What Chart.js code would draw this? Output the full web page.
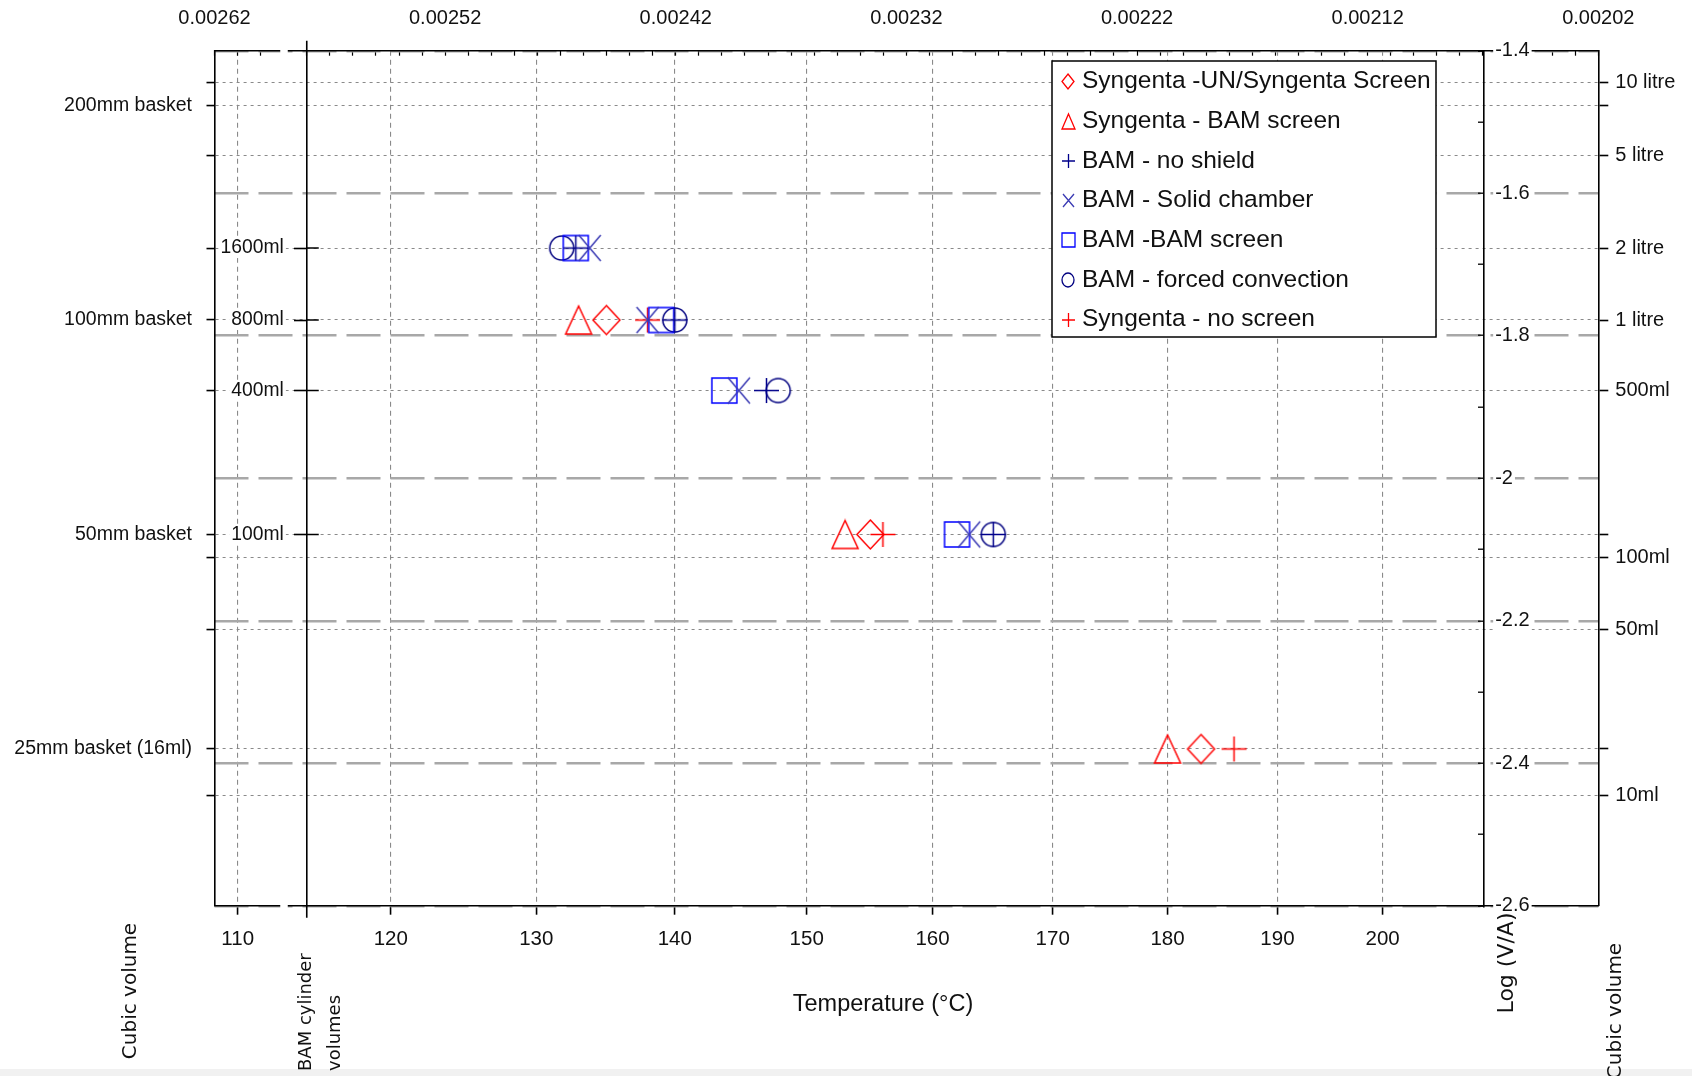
<!DOCTYPE html>
<html>
<head>
<meta charset="utf-8">
<title>Log (V/A) against temperature</title>
<script src="https://cdn.jsdelivr.net/npm/chart.js@4.4.1/dist/chart.umd.min.js"></script>
<style>
  html, body { margin: 0; padding: 0; background: #fff; }
  #chart { display: block; }
</style>
</head>
<body>
<canvas id="chart" width="1692" height="1076"></canvas>
<script>

// series, in legend order
var seriesNames = [
	'Syngenta -UN/Syngenta Screen',
	'Syngenta - BAM screen',
	'BAM - no shield',
	'BAM - Solid chamber',
	'BAM -BAM screen',
	'BAM - forced convection',
	'Syngenta - no screen'
];

// temperature (°C) and Log(V/A) of each point
var synScreenTemp = [135, 155, 183];
var synScreenLogVA = [-1.778, -2.079, -2.380];
var synBamTemp = [133, 153, 180];
var synBamLogVA = [-1.778, -2.079, -2.380];
var bamNoShieldTemp = [132.8, 140, 146.9, 165];
var bamNoShieldLogVA = [-1.677, -1.778, -1.877, -2.079];
var bamSolidTemp = [133.8, 138, 144.8, 163];
var bamSolidLogVA = [-1.677, -1.778, -1.877, -2.079];
var bamScreenTemp = [132.8, 139, 143.7, 162];
var bamScreenLogVA = [-1.677, -1.778, -1.877, -2.079];
var bamForcedTemp = [131.8, 140, 147.8, 165];
var bamForcedLogVA = [-1.677, -1.778, -1.877, -2.079];
var synNoScreenTemp = [138, 156, 186];
var synNoScreenLogVA = [-1.778, -2.079, -2.380];

// axis ticks
var tempTicks = [110, 120, 130, 140, 150, 160, 170, 180, 190, 200];
var invTempLabels = [0.00262, 0.00252, 0.00242, 0.00232, 0.00222, 0.00212, 0.00202];
var cubicLogVA = [-1.445, -1.477, -1.547, -1.677, -1.778, -1.877, -2.079, -2.111, -2.212, -2.380, -2.445];
var basketLabels = ['', '200mm basket', '', '', '100mm basket', '', '50mm basket', '', '', '25mm basket (16ml)', ''];
var litreLabels = ['10 litre', '', '5 litre', '2 litre', '1 litre', '500ml', '', '100ml', '50ml', '', '10ml'];
var bamLogVA = [-1.677, -1.778, -1.877, -2.079];
var bamLabels = ['1600ml', '800ml', '400ml', '100ml'];

var seriesTemps = [synScreenTemp, synBamTemp, bamNoShieldTemp, bamSolidTemp, bamScreenTemp, bamForcedTemp, synNoScreenTemp];
var seriesLogVA = [synScreenLogVA, synBamLogVA, bamNoShieldLogVA, bamSolidLogVA, bamScreenLogVA, bamForcedLogVA, synNoScreenLogVA];

var markerShapes = ['diamond', 'triangle', 'plus', 'cross', 'square', 'circle', 'plus'];
var markerColors = ['#ff0000', '#ff0000', '#00008b', '#3c3cb4', '#0000ff', '#000080', '#ff0000'];
var plotSizes = { diamond: [27, 29], triangle: [26, 28], plus: [25, 25], cross: [22, 26], square: [25, 25], circle: [24, 24] };
var legendSizes = { diamond: [12, 15], triangle: [13, 15], plus: [13, 14], cross: [11, 13], square: [13, 14], circle: [12, 14] };

var sansFont = '"Liberation Sans", Arial, sans-serif';
var wideFont = '"DejaVu Sans", Verdana, sans-serif';

// position of the two inner axes, on the 1/T scale
var bamAxisAt = 0.00258;
var logAxisAt = 0.0020697;

function makeMarker(shape, color, w, h, lw){
	var c = document.createElement('canvas');
	c.width = Math.ceil(w + 4);
	c.height = Math.ceil(h + 4);
	var g = c.getContext('2d');
	var cx = c.width / 2, cy = c.height / 2, hw = w / 2, hh = h / 2;
	g.strokeStyle = color;
	g.lineWidth = lw;
	g.beginPath();
	if (shape === 'diamond'){
		g.moveTo(cx, cy - hh); g.lineTo(cx + hw, cy); g.lineTo(cx, cy + hh); g.lineTo(cx - hw, cy); g.closePath();
	} else if (shape === 'triangle'){
		g.moveTo(cx, cy - hh); g.lineTo(cx + hw, cy + hh); g.lineTo(cx - hw, cy + hh); g.closePath();
	} else if (shape === 'plus'){
		g.moveTo(cx - hw, cy); g.lineTo(cx + hw, cy); g.moveTo(cx, cy - hh); g.lineTo(cx, cy + hh);
	} else if (shape === 'cross'){
		g.moveTo(cx - hw, cy - hh); g.lineTo(cx + hw, cy + hh); g.moveTo(cx + hw, cy - hh); g.lineTo(cx - hw, cy + hh);
	} else if (shape === 'square'){
		g.rect(cx - hw, cy - hh, w, h);
	} else {
		g.ellipse(cx, cy, hw, hh, 0, 0, Math.PI * 2);
	}
	g.stroke();
	return c;
}

var plotMarkers = markerShapes.map(function(s, i){ return makeMarker(s, markerColors[i], plotSizes[s][0], plotSizes[s][1], 1.5); });
var legendMarkers = markerShapes.map(function(s, i){ return makeMarker(s, markerColors[i], legendSizes[s][0], legendSizes[s][1], 1.3); });

function toPoints(temps, logs){
	return temps.map(function(t, i){ return { x: 1 / (t + 273.15), y: logs[i] }; });
}

function isMajorLog(v){
	return Math.abs(Math.round(v * 10)) % 2 === 0;
}

function logLabel(v){
	return isMajorLog(v) ? String(Math.round(v * 10) / 10) : '';
}

function vText(g, txt, x, y, font, align){
	g.save();
	g.translate(x, y);
	g.rotate(-Math.PI / 2);
	g.font = font;
	g.textAlign = align;
	g.textBaseline = 'middle';
	g.fillText(txt, 0, 0);
	g.restore();
}

// label with a white box behind it, so the grid lines break around it
function boxedText(g, txt, x, y, align){
	var w = g.measureText(txt).width;
	var left = align === 'right' ? x - w : x;
	g.fillStyle = '#fff';
	g.fillRect(left - 2, y - 10, w + 4, 20);
	g.fillStyle = '#111';
	g.textAlign = align;
	g.fillText(txt, x, y);
}

var extras = {
	id: 'extras',
	beforeDraw: function(c){
		var g = c.ctx;
		g.save();
		g.fillStyle = '#fff';
		g.fillRect(0, 0, c.width, c.height);
		g.fillStyle = '#f1f1f1';
		g.fillRect(0, 1069, c.width, 7);
		g.restore();
	},
	afterDraw: function(c){
		var g = c.ctx, a = c.chartArea;
		var bx = c.scales.x.getPixelForValue(bamAxisAt);
		var lx = c.scales.x.getPixelForValue(logAxisAt);
		g.save();

		// breaks in the top and bottom axis lines
		g.fillStyle = '#fff';
		g.fillRect(bx - 26.5, a.top - 3, 7.5, 9);
		g.fillRect(bx - 26.5, a.bottom - 3, 7.5, 6);

		// BAM axis runs past the frame, ticks cross it
		g.strokeStyle = '#000';
		g.lineWidth = 1.6;
		g.beginPath();
		g.moveTo(bx, a.top - 10); g.lineTo(bx, a.top);
		g.moveTo(bx, a.bottom); g.lineTo(bx, a.bottom + 12);
		bamLogVA.forEach(function(v){
			var y = c.scales.yBam.getPixelForValue(v);
			g.moveTo(bx, y); g.lineTo(bx + 12, y);
		});
		g.stroke();

		// labels of the two inner axes
		g.textBaseline = 'middle';
		g.font = '19.3px ' + sansFont;
		bamLogVA.forEach(function(v, i){
			boxedText(g, bamLabels[i], bx - 23, c.scales.yBam.getPixelForValue(v), 'right');
		});
		g.font = '20px ' + sansFont;
		c.scales.y.ticks.forEach(function(t){
			var txt = logLabel(t.value);
			if (txt) boxedText(g, txt, lx + 11.5, c.scales.y.getPixelForValue(t.value), 'left');
		});

		// axis titles
		g.fillStyle = '#111';
		g.font = '23.5px ' + sansFont;
		g.textAlign = 'center';
		g.fillText('Temperature (°C)', 883, 1005);
		vText(g, 'Cubic volume', 131, 991, '20px ' + wideFont, 'center');
		vText(g, 'BAM cylinder', 306, 1071, '18px ' + wideFont, 'left');
		vText(g, 'volumes', 335, 1071, '18px ' + wideFont, 'left');
		vText(g, 'Log (V/A)', 1507, 963, '22px ' + wideFont, 'center');
		vText(g, 'Cubic volume', 1616, 1011, '20px ' + wideFont, 'center');

		// legend box
		g.fillStyle = '#fff';
		g.fillRect(1052, 61, 384, 276);
		g.strokeStyle = '#000';
		g.lineWidth = 1.5;
		g.strokeRect(1052, 61, 384, 276);
		g.font = '24.5px ' + sansFont;
		g.textAlign = 'left';
		g.textBaseline = 'middle';
		c.data.datasets.forEach(function(ds, i){
			var y = 81.5 + i * 39.7;
			var m = legendMarkers[i];
			g.drawImage(m, Math.round(1068 - m.width / 2), Math.round(y - m.height / 2));
			g.fillStyle = '#111';
			g.fillText(ds.label, 1082, y);
		});
		g.restore();
	}
};

Chart.defaults.color = '#111';

var chart = new Chart(document.getElementById('chart'), {
	type: 'scatter',
	data: {
		datasets: seriesNames.map(function(name, i){
			return {
				label: name,
				data: toPoints(seriesTemps[i], seriesLogVA[i]),
				pointStyle: plotMarkers[i],
				pointRadius: 12,
				pointHoverRadius: 12,
				xAxisID: 'x',
				yAxisID: 'y'
			};
		})
	},
	options: {
		responsive: false,
		animation: false,
		events: [],
		layout: { padding: 0 },
		plugins: { legend: { display: false }, tooltip: { enabled: false } },
		scales: {
			x: {
				type: 'linear', position: 'bottom', reverse: true, min: 0.00202, max: 0.00262,
				afterBuildTicks: function(s){ s.ticks = tempTicks.map(function(t){ return { value: 1 / (t + 273.15) }; }); },
				afterFit: function(s){ s.height = 170.3; },
				ticks: {
					autoSkip: false, maxRotation: 0, padding: 12, color: '#111',
					font: { family: sansFont, size: 20.5 },
					callback: function(v, i){ return String(tempTicks[i]); }
				},
				grid: { color: '#8a8a8a', lineWidth: 1.1, tickLength: 9, tickColor: '#000', tickWidth: 1.6 },
				border: { color: '#000', width: 1.6, dash: [5, 4] }
			},
			xTop: {
				type: 'linear', axis: 'x', position: 'top', reverse: true, min: 0.00202, max: 0.00262,
				afterBuildTicks: function(s){
					var t = [];
					for (var k = 0; k <= 60; k++){ t.push({ value: 0.00202 + k * 0.00001 }); }
					s.ticks = t;
				},
				afterFit: function(s){ s.height = 50.7; },
				ticks: {
					autoSkip: false, maxRotation: 0, padding: 25, color: '#111',
					font: { family: sansFont, size: 20 },
					callback: function(v){
						for (var k = 0; k < invTempLabels.length; k++){
							if (Math.abs(invTempLabels[k] - v) < 2e-9) return invTempLabels[k].toFixed(5);
						}
						return '';
					}
				},
				grid: { drawOnChartArea: false, tickLength: -5, tickColor: '#000', tickWidth: 1.2 },
				border: { color: '#000', width: 1.6 }
			},
			yCubeL: {
				type: 'linear', axis: 'y', position: 'left', min: -2.6, max: -1.4,
				afterBuildTicks: function(s){ s.ticks = cubicLogVA.map(function(v){ return { value: v }; }); },
				afterFit: function(s){ s.width = 214.5; },
				ticks: {
					autoSkip: false, padding: 14.5, color: '#111',
					font: { family: sansFont, size: 19.5 },
					callback: function(v, i){ return basketLabels[i]; }
				},
				grid: { color: '#8a8a8a', lineWidth: 1.1, tickLength: 8, tickColor: '#000', tickWidth: 1.6 },
				border: { color: '#000', width: 1.6, dash: [3, 4] }
			},
			yCubeR: {
				type: 'linear', axis: 'y', position: 'right', min: -2.6, max: -1.4,
				afterBuildTicks: function(s){ s.ticks = cubicLogVA.map(function(v){ return { value: v }; }); },
				afterFit: function(s){ s.width = 93.7; },
				ticks: {
					autoSkip: false, padding: 7, color: '#111',
					font: { family: sansFont, size: 20 },
					callback: function(v, i){ return litreLabels[i]; }
				},
				grid: { drawOnChartArea: false, tickLength: 10, tickColor: '#000', tickWidth: 1.6 },
				border: { color: '#000', width: 1.6 }
			},
			yBam: {
				type: 'linear', axis: 'y', position: { x: bamAxisAt }, min: -2.6, max: -1.4,
				afterBuildTicks: function(s){ s.ticks = bamLogVA.map(function(v){ return { value: v }; }); },
				ticks: { display: false },
				grid: { drawOnChartArea: false, tickLength: 12, tickColor: '#000', tickWidth: 1.6 },
				border: { color: '#000', width: 1.6 }
			},
			y: {
				type: 'linear', position: { x: logAxisAt }, min: -2.6, max: -1.4,
				ticks: { stepSize: 0.1, autoSkip: false, display: false },
				grid: {
					color: function(ctx){ return ctx.tick && isMajorLog(ctx.tick.value) ? '#a8a8a8' : 'rgba(0,0,0,0)'; },
					lineWidth: 2.4, tickLength: 5, tickColor: '#000', tickWidth: 1.3
				},
				border: { color: '#000', width: 1.6, dash: [34, 10] }
			}
		}
	},
	plugins: [extras]
});
</script>
</body>
</html>
